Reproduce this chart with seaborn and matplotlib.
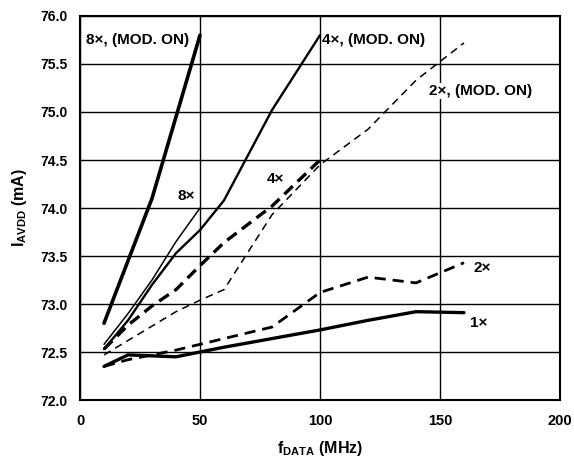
import numpy as np
import pandas as pd
import matplotlib
matplotlib.use("Agg")
import matplotlib.pyplot as plt
import seaborn as sns

# data (f_DATA in MHz, I_AVDD in mA)
x_8x_mod = [10, 20, 30, 40, 50]
y_8x_mod = [72.80, 73.45, 74.10, 74.95, 75.80]

x_8x = [10, 20, 30, 40, 50]
y_8x = [72.58, 72.90, 73.25, 73.65, 74.00]

x_4x_mod = [10, 20, 30, 40, 50, 60, 80, 100]
y_4x_mod = [72.53, 72.83, 73.20, 73.53, 73.77, 74.08, 75.02, 75.80]

x_4x = [10, 20, 30, 40, 50, 60, 80, 100]
y_4x = [72.53, 72.78, 72.98, 73.15, 73.40, 73.64, 74.02, 74.50]

x_2x_mod = [10, 20, 30, 40, 50, 60, 80, 100, 120, 140, 160]
y_2x_mod = [72.47, 72.62, 72.77, 72.92, 73.04, 73.15, 73.93, 74.45, 74.82, 75.33, 75.72]

x_2x = [10, 20, 40, 60, 80, 100, 120, 140, 160]
y_2x = [72.35, 72.42, 72.52, 72.64, 72.76, 73.12, 73.28, 73.22, 73.43]

x_1x = [10, 20, 40, 60, 80, 100, 120, 140, 160]
y_1x = [72.35, 72.47, 72.45, 72.55, 72.64, 72.73, 72.83, 72.92, 72.91]

x_ticks = [0, 50, 100, 150, 200]
y_ticks = [72.0, 72.5, 73.0, 73.5, 74.0, 74.5, 75.0, 75.5, 76.0]

sns.set_style("white")
plt.rcParams['font.family'] = ['Liberation Sans', 'DejaVu Sans']
plt.rcParams['font.weight'] = 'bold'
plt.rcParams['text.color'] = 'black'
plt.rcParams['axes.labelcolor'] = 'black'
plt.rcParams['xtick.color'] = 'black'
plt.rcParams['ytick.color'] = 'black'
plt.rcParams['mathtext.fontset'] = 'custom'
plt.rcParams['mathtext.rm'] = 'Liberation Sans:bold'
plt.rcParams['mathtext.bf'] = 'Liberation Sans:bold'
plt.rcParams['mathtext.it'] = 'Liberation Sans:bold'

fig = plt.figure(figsize=(5.74, 4.57), dpi=100)
ax = fig.add_axes([0.1394, 0.1247, 0.8362, 0.8403])

series = [
    (x_1x, y_1x, 2.4, "-"),
    (x_2x, y_2x, 2.0, (0, (4, 2.5))),
    (x_2x_mod, y_2x_mod, 1.1, (0, (5, 3.5))),
    (x_4x, y_4x, 2.4, (0, (3.5, 2))),
    (x_4x_mod, y_4x_mod, 1.7, "-"),
    (x_8x, y_8x, 1.1, "-"),
    (x_8x_mod, y_8x_mod, 2.6, "-"),
]
for xs, ys, lw, ls in series:
    sns.lineplot(x=xs, y=ys, ax=ax, color="black", linewidth=lw,
                 linestyle=ls, zorder=3)

ax.set_xlim(0, 200)
ax.set_ylim(72.0, 76.0)
ax.set_xticks(x_ticks)
ax.set_yticks(y_ticks)
ax.set_yticklabels([f"{v:.1f}" for v in y_ticks])
ax.tick_params(axis="y", length=0, labelsize=10, pad=9, labelcolor="black")
ax.tick_params(axis="x", length=0, labelsize=10.5, pad=10, labelcolor="black")
ax.grid(True, color="black", linewidth=1.0)
ax.set_axisbelow(True)
for s in ax.spines.values():
    s.set_color("black")
    s.set_linewidth(1.5)

ax.set_xlabel(r"f$_{\mathrm{DATA}}$ (MHz)", fontsize=11.5, fontweight="bold", labelpad=8)
ax.set_ylabel(r"I$_{\mathrm{AVDD}}$ (mA)", fontsize=11.5, fontweight="bold", labelpad=8)

labels = [
    (2.5, 75.75, "8×, (MOD. ON)"),
    (40.5, 74.13, "8×"),
    (101, 75.75, "4×, (MOD. ON)"),
    (145.5, 75.22, "2×, (MOD. ON)"),
    (78, 74.3, "4×"),
    (164, 73.37, "2×"),
    (162.5, 72.8, "1×"),
]
for tx, ty, t in labels:
    ax.text(tx, ty, t, fontsize=11, fontweight="bold", va="center", ha="left",
            color="black", zorder=4,
            bbox=dict(facecolor="white", edgecolor="none", pad=0.5))

fig.savefig("out.png", dpi=100)
